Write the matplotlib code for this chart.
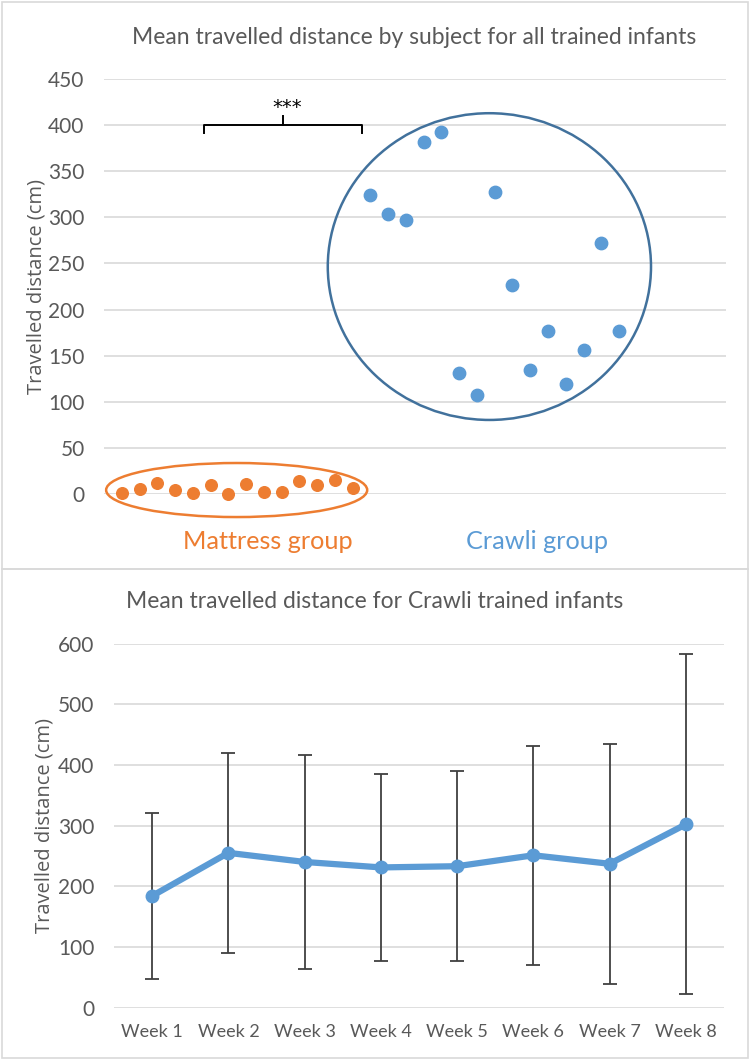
import matplotlib
matplotlib.use('Agg')
import matplotlib.pyplot as plt
from matplotlib.patches import Ellipse, Rectangle

# --- data ---
mattress_vals = [1.5, 5.4, 11.6, 4.2, 0.8, 9.3, 0.0, 10.8, 2.3, 2.3, 13.9, 9.3, 14.7, 7.0]
crawli_vals = [324, 304, 297, 382, 393, 131, 107, 328, 227, 134, 177, 119, 156, 272, 177]

weeks = ['Week 1', 'Week 2', 'Week 3', 'Week 4', 'Week 5', 'Week 6', 'Week 7', 'Week 8']
week_means = [184, 255, 240, 231, 233, 251, 237, 302]
week_err = [137, 165, 176, 154, 157, 180, 198, 280]

ORANGE = '#ED7D31'
BLUE = '#5B9BD5'
BLUE_EDGE = '#41719C'
GRID = '#D9D9D9'
TXT = '#595959'

plt.rcParams['font.family'] = ['Lato', 'DejaVu Sans']

W, H = 750, 1061
fig = plt.figure(figsize=(W / 100, H / 100), dpi=100)


def fx(px):
    return px / W


def fy(py):
    return 1 - py / H


# panel frames
fig.patches.append(Rectangle((fx(2), fy(569)), fx(746), 567 / H, transform=fig.transFigure,
                             fill=False, edgecolor=GRID, lw=1.2))
fig.patches.append(Rectangle((fx(2), fy(1058)), fx(746), 489 / H, transform=fig.transFigure,
                             fill=False, edgecolor=GRID, lw=1.2))

# ---------------- top panel ----------------
ax1 = fig.add_axes([fx(104), fy(494), fx(725.6 - 104), (494 - 79) / H])
x_m = list(range(1, len(mattress_vals) + 1))
x_c = list(range(len(mattress_vals) + 1, len(mattress_vals) + len(crawli_vals) + 1))
ax1.scatter(x_m, mattress_vals, s=70, color=ORANGE, zorder=3, clip_on=False)
ax1.scatter(x_c, crawli_vals, s=80, color=BLUE, zorder=3, clip_on=False)
ax1.set_xlim(0, 35)
ax1.set_ylim(0, 450)
ax1.set_yticks(range(0, 451, 50))
ax1.set_xticks([])
ax1.grid(axis='y', color=GRID, lw=1.2)
ax1.set_axisbelow(True)
for s in ax1.spines.values():
    s.set_visible(False)
ax1.tick_params(axis='y', length=0, labelsize=15, labelcolor=TXT, pad=14)
ax1.set_ylabel('Travelled distance (cm)', fontsize=14.5, color=TXT, family='Open Sans', va='center')
ax1.yaxis.set_label_coords((37 - 104) / 621.6, 0.5)
fig.text(fx(414), fy(38), 'Mean travelled distance by subject for all trained infants',
         ha='center', va='center', fontsize=16.5, color=TXT)

ax1.add_patch(Ellipse((7.47, 4.3), 14.7, 58.6, fill=False, edgecolor=ORANGE, lw=1.8, clip_on=False))
ax1.add_patch(Ellipse((21.7, 246.6), 18.2, 332.6, fill=False, edgecolor=BLUE_EDGE, lw=1.8, clip_on=False))

# significance bracket
ax1.plot([5.65, 5.65, 14.5, 14.5], [391, 400, 400, 391], color='black', lw=1.4)
ax1.plot([10.1, 10.1], [400, 410], color='black', lw=1.4)
ax1.text(10.3, 419, '***', ha='center', va='center', fontsize=14, color='black',
         family='DejaVu Sans')

ax1.text(9.25, -52, 'Mattress group', ha='center', va='center', fontsize=18.2, color=ORANGE, clip_on=False)
ax1.text(24.4, -52, 'Crawli group', ha='center', va='center', fontsize=18.2, color=BLUE, clip_on=False)

# ---------------- bottom panel ----------------
ax2 = fig.add_axes([fx(114), fy(1007.6), fx(724 - 114), (1007.6 - 643.5) / H])
xs = list(range(len(weeks)))
ax2.errorbar(xs, week_means, yerr=week_err, fmt='none', ecolor='#404040', elinewidth=1.3,
             capsize=5, capthick=1.3, zorder=2)
ax2.plot(xs, week_means, color=BLUE, lw=4.5, marker='o', markersize=9, zorder=3)
ax2.set_xlim(-0.5, 7.5)
ax2.set_ylim(0, 600)
ax2.set_yticks(range(0, 601, 100))
ax2.set_xticks(xs)
ax2.set_xticklabels(weeks)
ax2.grid(axis='y', color=GRID, lw=1.2)
ax2.set_axisbelow(True)
for s in ax2.spines.values():
    s.set_visible(False)
ax2.tick_params(axis='y', length=0, labelsize=15, labelcolor=TXT, pad=14)
ax2.tick_params(axis='x', length=0, labelsize=13, labelcolor=TXT, pad=12)
ax2.set_ylabel('Travelled distance (cm)', fontsize=14.5, color=TXT, family='Open Sans', va='center')
ax2.yaxis.set_label_coords((45 - 114) / 610, 0.5)
fig.text(fx(375), fy(601), 'Mean travelled distance for Crawli trained infants',
         ha='center', va='center', fontsize=16.5, color=TXT)

fig.savefig('out.png', dpi=100)
